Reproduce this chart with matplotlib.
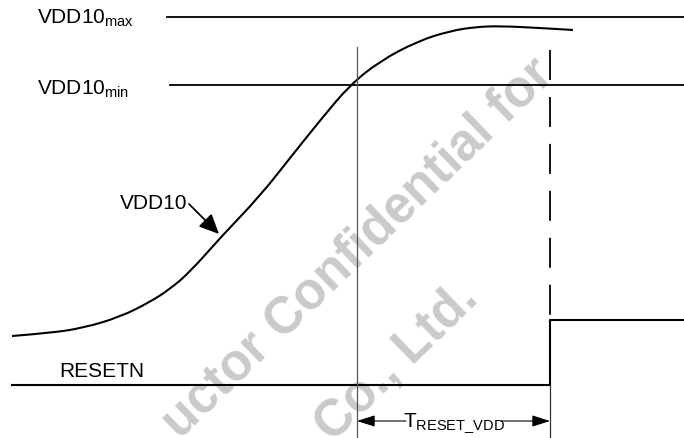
import matplotlib
matplotlib.use("Agg")
from matplotlib import pyplot as plt
from matplotlib.path import Path
from matplotlib.patches import PathPatch

plt.rcParams['font.family'] = ['Liberation Sans', 'DejaVu Sans']
plt.rcParams['mathtext.fontset'] = 'custom'
plt.rcParams['mathtext.rm'] = 'Liberation Sans'
plt.rcParams['mathtext.it'] = 'Liberation Sans'
plt.rcParams['lines.scale_dashes'] = False

# VDD10 ramp (x, y in pixel-like units, y grows downward)
vdd_x = [12, 50, 83, 120, 150, 170, 190, 220, 260, 290, 322, 350, 380, 418, 450, 475, 500, 540, 573]
vdd_y = [337, 334, 329, 318, 303, 290, 273, 239, 197, 159, 119, 86, 62, 42, 32, 28, 27, 29, 31]

# reference levels
vdd_max = 18
vdd_min = 86

# RESETN waveform
reset_x = [12, 550, 550, 684]
reset_y = [386, 386, 321, 321]

# timing marks
t_start = 357
t_end = 550


def smooth_path(xs, ys):
    # quadratic segments through midpoints, control points at the samples
    pts = list(zip(xs, ys))
    verts = [pts[0]]
    codes = [Path.MOVETO]
    for i in range(1, len(pts) - 1):
        mid = ((pts[i][0] + pts[i + 1][0]) / 2, (pts[i][1] + pts[i + 1][1]) / 2)
        verts += [pts[i], mid]
        codes += [Path.CURVE3, Path.CURVE3]
    verts.append(pts[-1])
    codes.append(Path.LINETO)
    return Path(verts, codes)


fig = plt.figure(figsize=(6.84, 4.39), dpi=100)
ax = fig.add_axes([0, 0, 1, 1])
ax.set_xlim(0, 684)
ax.set_ylim(439, 0)
ax.axis('off')

# watermark
wm = dict(color='#cacaca', fontsize=37, fontweight='bold', rotation=44,
          rotation_mode='anchor', ha='center', va='center', zorder=0)
ax.text(358, 249, 'uctor Confidential for', **wm)
ax.text(397, 362, 'Co., Ltd.', **wm)

# level lines
ax.plot([167, 684], [vdd_max, vdd_max], color='black', lw=1.3)
ax.plot([170, 684], [vdd_min, vdd_min], color='black', lw=1.3)
ax.text(37, vdd_max, r'VDD10$_{\mathrm{max}}$', fontsize=15, va='center')
ax.text(37, vdd_min + 3, r'VDD10$_{\mathrm{min}}$', fontsize=15, va='center')

# ramp
ax.add_patch(PathPatch(smooth_path(vdd_x, vdd_y), facecolor='none',
                       edgecolor='black', lw=1.5))
ax.text(120, 204, 'VDD10', fontsize=15, va='center')
ax.annotate('', xy=(219, 235), xytext=(189, 205),
            arrowprops=dict(arrowstyle='-|>,head_length=1.2,head_width=0.55',
                            color='black', lw=1.3, shrinkA=0, shrinkB=0))

# RESETN
ax.plot(reset_x, reset_y, color='black', lw=1.5)
ax.text(59, 372, 'RESETN', fontsize=15, va='center')

# vertical markers
ax.plot([t_start, t_start], [48, 439], color='#555555', lw=0.9)
ax.plot([t_end, t_end], [51, 318], color='black', lw=1.3, dashes=(21.6, 12.2))
ax.plot([t_end, t_end], [386, 439], color='#333333', lw=0.9)

# T_RESET_VDD span
ax.text((t_start + t_end) / 2, 423, r'T$_{\mathrm{RESET\_VDD}}$', fontsize=15,
        ha='center', va='center')
arrow = dict(arrowstyle='-|>,head_length=1.1,head_width=0.35',
             color='black', lw=0.8, shrinkA=0, shrinkB=0)
ax.annotate('', xy=(t_start, 422), xytext=(406, 422), arrowprops=arrow)
ax.annotate('', xy=(t_end, 422), xytext=(501, 422), arrowprops=arrow)

fig.savefig('out.png', dpi=100)
